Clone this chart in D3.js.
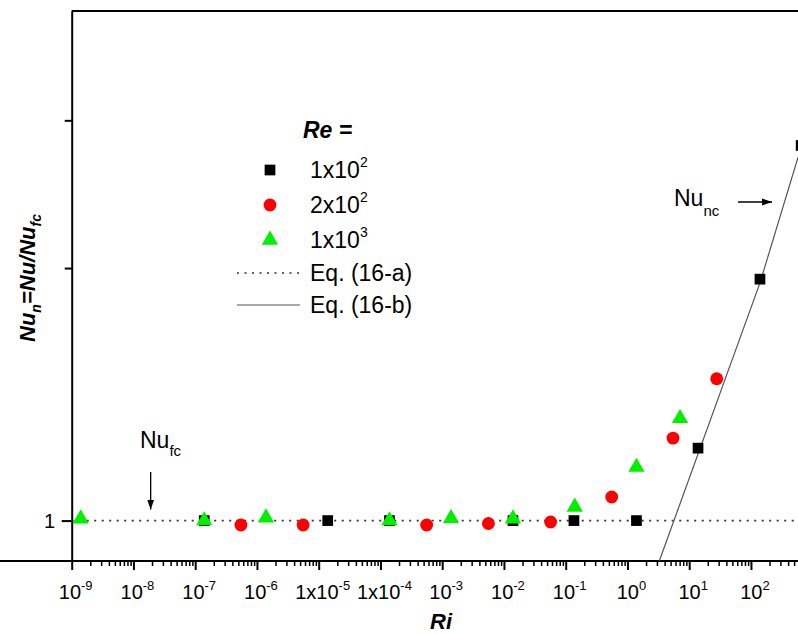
<!DOCTYPE html>
<html lang="en">
<head>
<meta charset="utf-8">
<title>Nu_n vs Ri</title>
<script src="https://cdn.jsdelivr.net/npm/d3@7"></script>
<style>
  body { margin: 0; background: #fff; }
  svg text { font-family: "Liberation Sans", Arial, sans-serif; fill: #000; }
</style>
</head>
<body>
<div id="chart"></div>
<script>
// data
var riRe100 = [1.4e-7, 1.4e-5, 1.4e-4, 1.4e-2, 0.136, 1.4, 13.9, 140, 650]
var nuRe100 = [1.0, 1.0, 1.0, 1.0, 1.0, 1.0, 1.22, 1.94, 2.8]

var riRe200 = [5.5e-7, 5.6e-6, 5.6e-4, 5.6e-3, 5.7e-2, 0.556, 5.47, 27.9]
var nuRe200 = [0.988, 0.988, 0.988, 0.992, 0.996, 1.067, 1.254, 1.476]

var riRe1000 = [1.4e-9, 1.4e-7, 1.4e-6, 1.4e-4, 1.39e-3, 1.4e-2, 0.14, 1.4, 7.1]
var nuRe1000 = [1.005, 1.0, 1.008, 1.0, 1.006, 1.005, 1.038, 1.158, 1.324]

// Eq. (16-a) and Eq. (16-b)
var riEqA = [1e-9, 578]
var nuEqA = [1, 1]
var riEqB = [3.28, 140, 578]
var nuEqB = [0.895, 1.92, 2.71]

var xMajor = [1e-9, 1e-8, 1e-7, 1e-6, 1e-5, 1e-4, 1e-3, 1e-2, 1e-1, 1, 10, 100]
var xLabelBase = ["10", "10", "10", "10", "1x10", "1x10", "10", "10", "10", "10", "10", "10"]
var xLabelSup = ["-9", "-8", "-7", "-6", "-5", "-4", "-3", "-2", "-1", "0", "1", "2"]
var yMajor = [1, 2, 3]

var legendLabels = [["1x10", "2"], ["2x10", "2"], ["1x10", "3"]]

var W = 798, H = 634

var svg = d3.select("#chart").append("svg")
  .attr("width", W).attr("height", H)

var x = d3.scaleLog().domain([1e-9, 578]).range([71.7, 798])
var y = d3.scaleLog().domain([0.895, 4.05]).range([561, 11])

// minor ticks 2..9 in each decade
var xMinor = []
for (var e = -9; e <= 2; e++) {
  for (var m = 2; m <= 9; m++) {
    var v = m * Math.pow(10, e)
    if (v < 578) xMinor.push(v)
  }
}

// frame top line
svg.append("line")
  .attr("x1", x.range()[0]).attr("x2", W)
  .attr("y1", y.range()[1]).attr("y2", y.range()[1])
  .attr("stroke", "#000").attr("stroke-width", 2)

var gxMinor = svg.append("g")
  .attr("transform", "translate(0," + y.range()[0] + ")")
  .call(d3.axisBottom(x).tickValues(xMinor).tickSize(5).tickFormat("").tickSizeOuter(0))
gxMinor.select(".domain").remove()
gxMinor.selectAll("line").attr("stroke-width", 1.5)

var gx = svg.append("g")
  .attr("transform", "translate(0," + y.range()[0] + ")")
  .call(d3.axisBottom(x).tickValues(xMajor).tickSize(9).tickFormat("").tickSizeOuter(0))
gx.select(".domain").attr("stroke-width", 2).attr("d", "M-5,0H" + W)
gx.selectAll("line").attr("stroke-width", 2)

// x tick labels with superscripts
xMajor.forEach(function(v, i) {
  var t = svg.append("text")
    .attr("x", x(v) + 4).attr("y", 599)
    .attr("text-anchor", "middle")
    .style("font-size", "20px")
  t.append("tspan").text(xLabelBase[i])
  t.append("tspan").attr("dy", -9).style("font-size", "13px").text(xLabelSup[i])
})

var gy = svg.append("g")
  .attr("transform", "translate(" + x.range()[0] + ",0)")
  .call(d3.axisLeft(y).tickValues(yMajor).tickSize(7).tickFormat("").tickSizeOuter(0))
gy.select(".domain").attr("stroke-width", 2)
gy.selectAll("line").attr("stroke-width", 2)
gy.selectAll(".tick").filter(function(d) { return d === 1 }).select("line").attr("x2", -10)

svg.append("text")
  .attr("x", 55).attr("y", y(1) + 7)
  .attr("text-anchor", "end")
  .style("font-size", "20px")
  .text("1")

// axis titles
svg.append("text")
  .attr("x", 441).attr("y", 629)
  .attr("text-anchor", "middle")
  .style("font-size", "22px").style("font-weight", "bold").style("font-style", "italic")
  .text("Ri")

var yt = svg.append("text")
  .attr("transform", "translate(35,278) rotate(-90)")
  .attr("text-anchor", "middle")
  .style("font-size", "22px").style("font-weight", "bold").style("font-style", "italic")
yt.append("tspan").text("Nu")
yt.append("tspan").attr("dy", 6).style("font-size", "14px").text("n")
yt.append("tspan").attr("dy", -6).text("=Nu/Nu")
yt.append("tspan").attr("dy", 6).style("font-size", "14px").text("fc")

// clip for plot area
svg.append("clipPath").attr("id", "plot")
  .append("rect").attr("x", x.range()[0]).attr("y", y.range()[1])
  .attr("width", W - x.range()[0]).attr("height", y.range()[0] - y.range()[1])

var plot = svg.append("g").attr("clip-path", "url(#plot)")

var line = d3.line()
  .x(function(d) { return x(d[0]) })
  .y(function(d) { return y(d[1]) })

plot.append("path")
  .datum(d3.zip(riEqA, nuEqA))
  .attr("d", line)
  .attr("fill", "none").attr("stroke", "#333").attr("stroke-width", 1.6)
  .attr("stroke-dasharray", "2,5.5")

plot.append("path")
  .datum(d3.zip(riEqB, nuEqB))
  .attr("d", line)
  .attr("fill", "none").attr("stroke", "#555").attr("stroke-width", 1.2)

var sq = d3.symbol().type(d3.symbolSquare).size(115)
var ci = d3.symbol().type(d3.symbolCircle).size(130)
var tri = d3.symbol().type(d3.symbolTriangle).size(115)

function drawSeries(ri, nu, sym, color) {
  svg.append("g").selectAll("path")
    .data(d3.zip(ri, nu))
    .enter().append("path")
    .attr("d", sym)
    .attr("transform", function(d) { return "translate(" + x(d[0]) + "," + y(d[1]) + ")" })
    .attr("fill", color)
}
drawSeries(riRe100, nuRe100, sq, "#000")
drawSeries(riRe200, nuRe200, ci, "#ff0000")
drawSeries(riRe1000, nuRe1000, tri, "#00f000")

// legend
var lg = svg.append("g")
lg.append("text").attr("x", 303).attr("y", 138)
  .style("font-size", "23px").style("font-weight", "bold").style("font-style", "italic")
  .text("Re =")

var legendSyms = [[sq, "#000"], [ci, "#ff0000"], [tri, "#00f000"]]
var rowY = [170, 205, 240]
legendSyms.forEach(function(s, i) {
  lg.append("path").attr("d", s[0]).attr("fill", s[1])
    .attr("transform", "translate(270," + rowY[i] + ")")
  var t = lg.append("text").attr("x", 310).attr("y", rowY[i] + 8).style("font-size", "23px")
  t.append("tspan").text(legendLabels[i][0])
  t.append("tspan").attr("dy", -11).style("font-size", "14px").text(legendLabels[i][1])
})
lg.append("line").attr("x1", 237).attr("x2", 300).attr("y1", 273).attr("y2", 273)
  .attr("stroke", "#333").attr("stroke-width", 1.6).attr("stroke-dasharray", "2,5.5")
lg.append("text").attr("x", 310).attr("y", 281).style("font-size", "23px").text("Eq. (16-a)")
lg.append("line").attr("x1", 237).attr("x2", 300).attr("y1", 305).attr("y2", 305)
  .attr("stroke", "#555").attr("stroke-width", 1.2)
lg.append("text").attr("x", 310).attr("y", 313).style("font-size", "23px").text("Eq. (16-b)")

// annotations
var defs = svg.append("defs")
defs.append("marker").attr("id", "arr")
  .attr("viewBox", "0 0 10 10").attr("refX", 10).attr("refY", 5)
  .attr("markerWidth", 10).attr("markerHeight", 10).attr("markerUnits", "userSpaceOnUse")
  .attr("orient", "auto")
  .append("path").attr("d", "M0,1.5L10,5L0,8.5Z").attr("fill", "#000")

var fc = svg.append("text").attr("x", 140).attr("y", 448).style("font-size", "23px")
fc.append("tspan").text("Nu")
fc.append("tspan").attr("dy", 8).style("font-size", "15px").text("fc")
svg.append("line")
  .attr("x1", x(1.9e-8)).attr("x2", x(1.9e-8))
  .attr("y1", 472).attr("y2", y(1) - 11)
  .attr("stroke", "#000").attr("stroke-width", 1.3).attr("marker-end", "url(#arr)")

var nc = svg.append("text").attr("x", 674).attr("y", 206).style("font-size", "23px")
nc.append("tspan").text("Nu")
nc.append("tspan").attr("dy", 10).style("font-size", "15px").text("nc")
svg.append("line")
  .attr("x1", 738).attr("x2", 772)
  .attr("y1", 202).attr("y2", 202)
  .attr("stroke", "#000").attr("stroke-width", 1.3).attr("marker-end", "url(#arr)")
</script>
</body>
</html>
